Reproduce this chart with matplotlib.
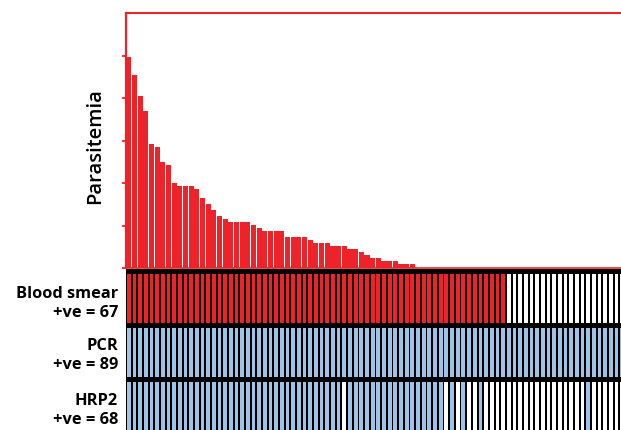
import matplotlib
matplotlib.use("Agg")
import matplotlib.pyplot as plt
import numpy as np

# ---- data ----
parasitemia = [4.96, 4.53, 4.04, 3.69, 2.91, 2.84, 2.49, 2.42, 2.00, 1.93,
               1.93, 1.93, 1.85, 1.64, 1.50, 1.36, 1.22, 1.15, 1.08, 1.08,
               1.08, 1.08, 1.01, 0.94, 0.87, 0.87, 0.87, 0.87, 0.73, 0.73,
               0.73, 0.73, 0.66, 0.59, 0.59, 0.59, 0.52, 0.52, 0.52, 0.45,
               0.45, 0.38, 0.31, 0.23, 0.23, 0.16, 0.16, 0.16, 0.09, 0.09,
               0.09] + [0.0] * 38
n = len(parasitemia)  # 89 samples

smear_pos = [1] * 67 + [0] * 22
pcr_pos = [1] * 89
hrp2_blue_late = [57, 59, 62, 81]
hrp2_pos = [1 if (i <= 55 and i != 38) or i in hrp2_blue_late else 0 for i in range(n)]

row_labels = ["Blood smear\n+ve = 67", "PCR\n+ve = 89", "HRP2\n+ve = 68"]
rows = [smear_pos, pcr_pos, hrp2_pos]

RED = "#EE2229"
BLUE = "#9DC3E6"
row_colors = [RED, BLUE, BLUE]

W, H = 621, 430
fig = plt.figure(figsize=(W / 100, H / 100), dpi=100)

x0, x1 = 126, 126 + 89 * 5.67
FAM = ["Open Sans", "DejaVu Sans"]

# ---- bar chart ----
ax = fig.add_axes([x0 / W, (H - 268) / H, (x1 - x0) / W, (268 - 13) / H])
xs = np.arange(n)
ax.bar(xs, parasitemia, width=0.9, color=RED, edgecolor="none")
ax.set_xlim(-0.5, n - 0.5)
ax.set_ylim(0, 6)
ax.set_yticks([0, 1, 2, 3, 4, 5])
ax.set_yticklabels([])
ax.set_xticks([])
ax.tick_params(axis="y", colors=RED, length=3, width=1.3, direction="out")
for s in ["left", "top", "bottom", "right"]:
    ax.spines[s].set_color(RED)
ax.spines["left"].set_linewidth(1.6)
ax.spines["top"].set_linewidth(1.5)
ax.spines["bottom"].set_linewidth(1.2)
fig.text(95 / W, (H - 146) / H, "Parasitemia", rotation=90, ha="center",
         va="center", fontsize=14.5, fontweight="semibold", family=FAM)

# ---- heatmap ----
band = 4.5 / 54
hax = fig.add_axes([x0 / W, (H - 435.5) / H, (x1 - x0) / W, (3 + band) * 54 / H])
hax.set_facecolor("black")
for k, (vals, col) in enumerate(zip(rows, row_colors)):
    colors = [col if v else "white" for v in vals]
    hax.bar(xs, 1 - band, bottom=k + band, width=0.66, color=colors,
            edgecolor="none")
hax.set_xlim(-0.5, n - 0.5)
hax.set_ylim(3 + band, 0)
hax.set_xticks([])
hax.set_yticks([])
for s in hax.spines.values():
    s.set_visible(False)

label_y = [303.5, 355.5, 410.5]
for lab, yp in zip(row_labels, label_y):
    fig.text(118 / W, (H - yp) / H, lab, ha="right", va="center",
             fontsize=11.8, fontweight="bold", linespacing=1.22,
             family=FAM)

fig.savefig("out.png", dpi=100)
